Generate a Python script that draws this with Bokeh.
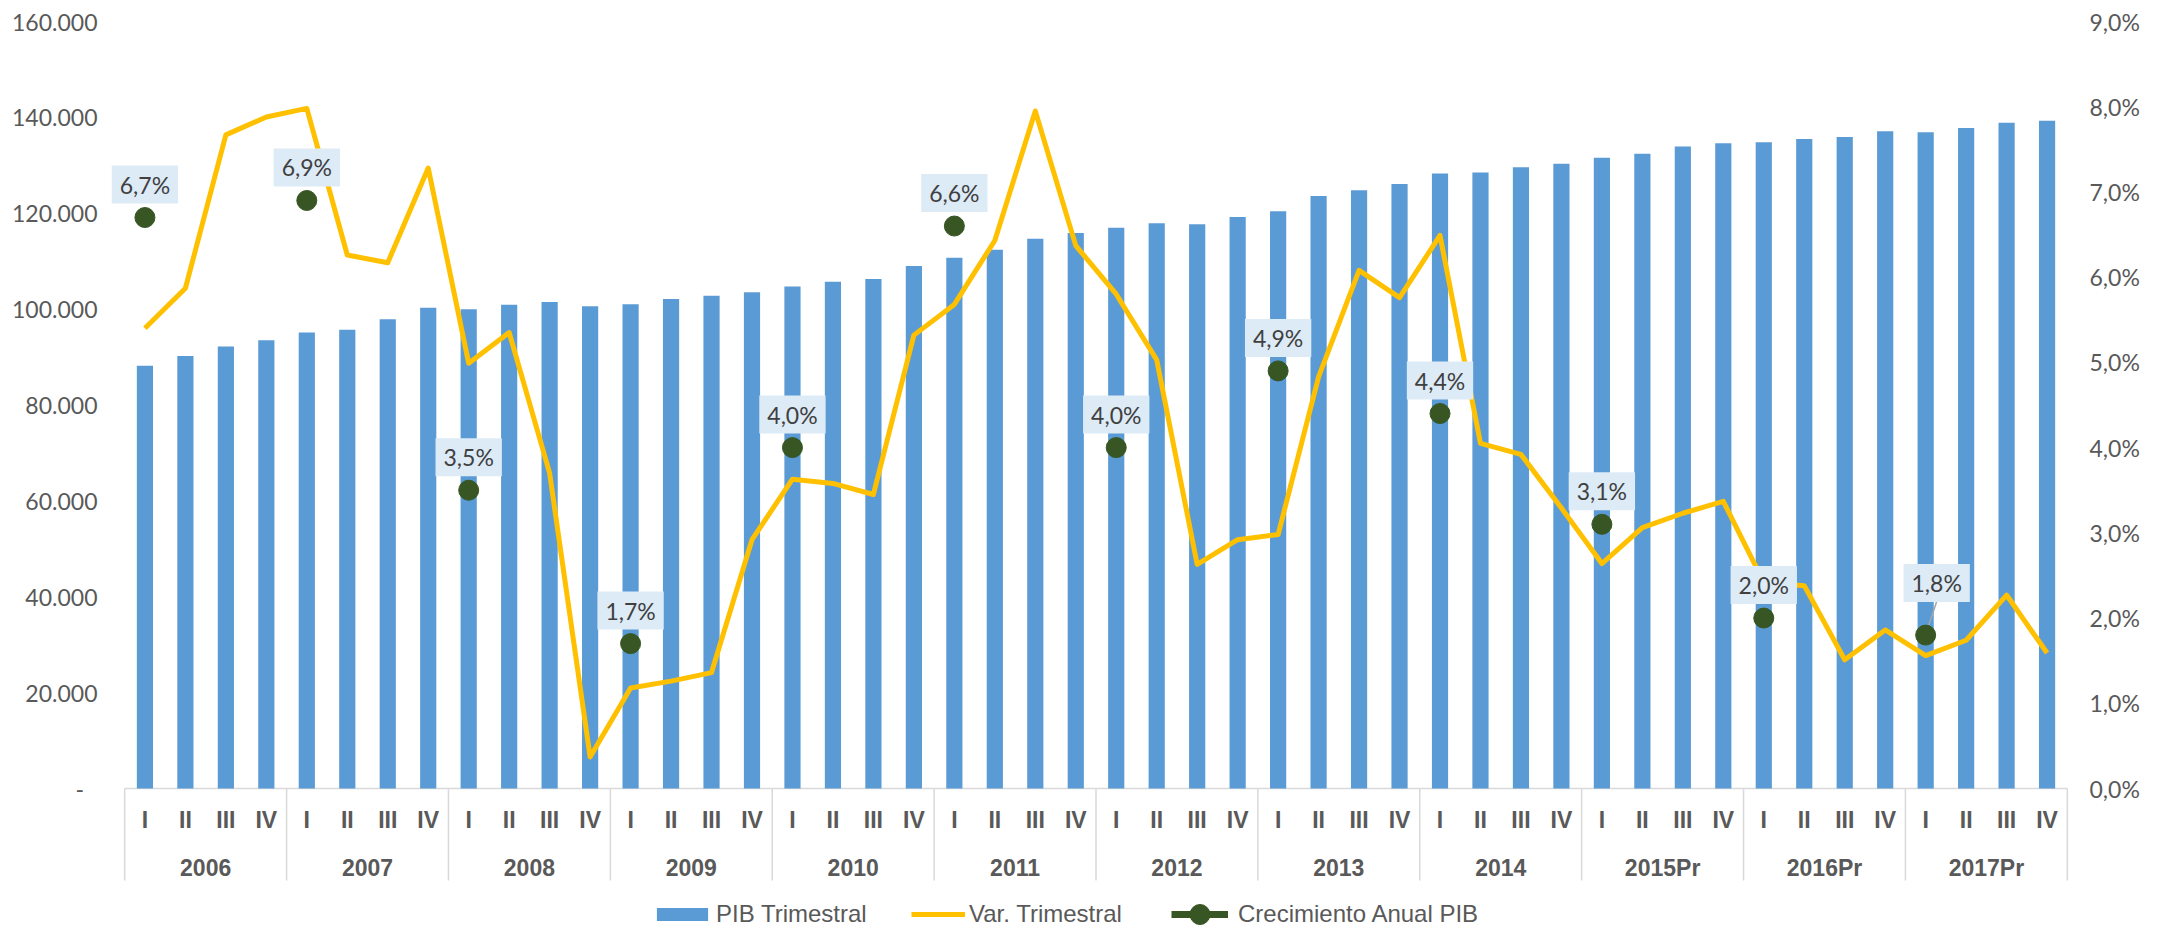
from bokeh.plotting import figure
from bokeh.models import (FactorRange, Range1d, LinearAxis, FixedTicker, CustomJSTickFormatter,
                          ColumnDataSource, Legend, LegendItem)
from bokeh.core.properties import value
from bokeh.embed import file_html
from bokeh.resources import INLINE

# ---------------- data ----------------
years = ["2006", "2007", "2008", "2009", "2010", "2011", "2012", "2013", "2014",
         "2015Pr", "2016Pr", "2017Pr"]
quarters = ["I", "II", "III", "IV"]

pib_trimestral = [
    88200, 90200, 92200, 93500,      # 2006
    95100, 95700, 97900, 100300,     # 2007
    100000, 100900, 101500, 100600,  # 2008
    101000, 102100, 102800, 103500,  # 2009
    104700, 105700, 106300, 109000,  # 2010
    110700, 112400, 114700, 115900,  # 2011
    117000, 117900, 117700, 119200,  # 2012
    120400, 123600, 124800, 126100,  # 2013
    128300, 128500, 129600, 130300,  # 2014
    131600, 132400, 133900, 134600,  # 2015Pr
    134800, 135500, 135900, 137100,  # 2016Pr
    136900, 137800, 138900, 139300,  # 2017Pr
]

var_trimestral = [
    5.40, 5.87, 7.67, 7.88,
    7.98, 6.26, 6.17, 7.28,
    4.99, 5.35, 3.70, 0.37,
    1.18, 1.26, 1.36, 2.92,
    3.63, 3.58, 3.45, 5.32,
    5.68, 6.43, 7.95, 6.37,
    5.80, 5.03, 2.63, 2.92,
    2.98, 4.83, 6.08, 5.76,
    6.49, 4.05, 3.92, 3.29,
    2.64, 3.06, 3.23, 3.37,
    2.42, 2.38, 1.51, 1.86,
    1.56, 1.74, 2.27, 1.59,
]

crecimiento_anual = [6.7, 6.9, 3.5, 1.7, 4.0, 6.6, 4.0, 4.9, 4.4, 3.1, 2.0, 1.8]
crecimiento_labels = ["6,7%", "6,9%", "3,5%", "1,7%", "4,0%", "6,6%",
                      "4,0%", "4,9%", "4,4%", "3,1%", "2,0%", "1,8%"]

left_ticks = [0, 20000, 40000, 60000, 80000, 100000, 120000, 140000, 160000]
right_ticks = [0, 1, 2, 3, 4, 5, 6, 7, 8, 9]

# ---------------- layout (screen px) ----------------
FIG_W, FIG_H = 2169, 930
TOP = 21            # frame top (value 160.000 / 9,0%)
ZERO = 788          # y pixel of value 0
LEFT, RIGHT = 108, 86
PAD = 0.4           # category padding at each end (factor units)
QUARTER_DY, YEAR_DY, SEP_DY = 31, 79, 92
label_dx = [0, 0, 0, 0, 0, 0, 0, 0, 0, 0, 0, 11]
label_dy = [-33, -33, -33, -33, -33, -33, -33, -33, -33, -33, -33, -52]

span_px = ZERO - TOP
below_frac = (FIG_H - ZERO) / span_px
y_left = Range1d(-below_frac * left_ticks[-1], left_ticks[-1])
y_right = Range1d(-below_frac * right_ticks[-1], right_ticks[-1])
sep_bottom = -SEP_DY / span_px * left_ticks[-1]

# ---------------- styles ----------------
BLUE = "#5B9BD5"
YELLOW = "#FFC000"
GREEN = "#375623"
GREY = "#595959"
LIGHT = "#D9D9D9"

factors = [(y, q) for y in years for q in quarters]
x_range = FactorRange(factors=factors, group_padding=0, factor_padding=0,
                      subgroup_padding=0, range_padding=PAD,
                      range_padding_units="absolute")

p = figure(width=FIG_W, height=FIG_H, x_range=x_range, y_range=y_left,
           output_backend="svg", toolbar_location=None,
           min_border=0, min_border_left=LEFT, min_border_right=RIGHT,
           min_border_top=TOP, min_border_bottom=0, x_axis_location=None)
p.extra_y_ranges = {"pct": y_right}
p.xgrid.visible = False
p.ygrid.visible = False
p.outline_line_color = None
p.background_fill_color = "white"
p.border_fill_color = "white"

# left axis
ya = p.yaxis[0]
ya.ticker = FixedTicker(ticks=left_ticks)
ya.formatter = CustomJSTickFormatter(code="""
if (tick == 0) { return "-\u2007"; }
return (tick/1000).toFixed(0) + ".000";
""")
ya.axis_line_color = None
ya.major_tick_line_color = None
ya.minor_tick_line_color = None
ya.major_tick_out = 0
ya.major_tick_in = 0
ya.minor_tick_out = 0
ya.major_label_standoff = 11
ya.major_label_text_font = "Lato"
ya.major_label_text_font_size = "23px"
ya.major_label_text_color = GREY

# right axis
ra = LinearAxis(y_range_name="pct", ticker=FixedTicker(ticks=right_ticks),
                formatter=CustomJSTickFormatter(code="return tick.toFixed(1).replace('.', ',') + '%';"))
ra.axis_line_color = None
ra.major_tick_line_color = None
ra.minor_tick_line_color = None
ra.major_tick_out = 0
ra.major_tick_in = 0
ra.minor_tick_out = 0
ra.major_label_standoff = 6
ra.major_label_text_font = "Lato"
ra.major_label_text_font_size = "23px"
ra.major_label_text_color = GREY
p.add_layout(ra, "right")

# ---------------- category axis (drawn in the frame) ----------------
p.segment(x0=[(years[0], quarters[0], -0.5)], y0=[0],
          x1=[(years[-1], quarters[-1], 0.5)], y1=[0],
          line_color=LIGHT, line_width=1.5)
sep_x = [(y, quarters[0], -0.5) for y in years] + [(years[-1], quarters[-1], 0.5)]
p.segment(x0=sep_x, y0=[0] * len(sep_x), x1=sep_x, y1=[sep_bottom] * len(sep_x),
          line_color=LIGHT, line_width=1.5)
p.text(x=factors, y=[0] * len(factors), text=[q for _, q in factors],
       y_offset=QUARTER_DY, text_align="center", text_baseline="middle",
       text_font=value("Liberation Sans"), text_font_size="23px",
       text_font_style="bold", text_color=GREY)
p.text(x=[(y, quarters[1], 0.5) for y in years], y=[0] * len(years), text=years,
       y_offset=YEAR_DY, text_align="center", text_baseline="middle",
       text_font=value("Liberation Sans"), text_font_size="23px",
       text_font_style="bold", text_color=GREY)

# ---------------- glyphs ----------------
src = ColumnDataSource(dict(x=factors, pib=pib_trimestral, var=var_trimestral))
bars = p.vbar(x="x", top="pib", width=0.4, source=src, fill_color=BLUE, line_color=None)

line = p.line(x="x", y="var", source=src, y_range_name="pct", line_color=YELLOW,
              line_width=5, line_join="round")

ann_x = [(y, "I") for y in years]
ann_src = ColumnDataSource(dict(x=ann_x, y=crecimiento_anual, t=crecimiento_labels,
                                dx=label_dx, dy=label_dy))

# leader line for the displaced last label
units_per_px = (len(factors) + 2 * PAD) / (FIG_W - LEFT - RIGHT)
lead_dx = label_dx[-1] * units_per_px
lead_dy = (-label_dy[-1] - 18.5) / span_px * right_ticks[-1]
p.segment(x0=[ann_x[-1]], y0=[crecimiento_anual[-1]],
          x1=[(years[-1], "I", lead_dx)], y1=[crecimiento_anual[-1] + lead_dy],
          y_range_name="pct", line_color="#A6A6A6", line_width=1.5)

dots = p.scatter(x="x", y="y", source=ann_src, y_range_name="pct", size=20,
                 fill_color=GREEN, line_color=GREEN)

p.text(x="x", y="y", text="t", source=ann_src, y_range_name="pct",
       x_offset="dx", y_offset="dy", text_align="center", text_baseline="middle",
       text_font=value("Lato"), text_font_size="23px", text_color="#404040",
       background_fill_color="#DDEBF7", padding=dict(x=8, y=5))

dummy = p.line(x=[ann_x[0]], y=[crecimiento_anual[0]], y_range_name="pct",
               line_color=GREEN, line_width=7)

# ---------------- legends ----------------
common = dict(orientation="horizontal", padding=0, margin=0, border_line_color=None,
              background_fill_alpha=0, label_text_font="Liberation Sans",
              label_text_font_size="24px", label_text_color=GREY)
LEG_CY = 16   # legend centre above frame bottom
legA = Legend(items=[LegendItem(label="PIB Trimestral", renderers=[bars])],
              glyph_width=64, glyph_height=16, label_standoff=2,
              location=(542, LEG_CY - 14), **common)
legB = Legend(items=[LegendItem(label="Var. Trimestral", renderers=[line])],
              glyph_width=54, glyph_height=16, label_standoff=4,
              location=(803, LEG_CY - 14), **common)
legC = Legend(items=[LegendItem(label="Crecimiento Anual PIB", renderers=[dummy, dots])],
              glyph_width=57, glyph_height=50, label_standoff=10,
              location=(1063, LEG_CY - 25), **common)
for lg in (legA, legB, legC):
    p.add_layout(lg)

open("out.html", "w").write(file_html(p, INLINE))
